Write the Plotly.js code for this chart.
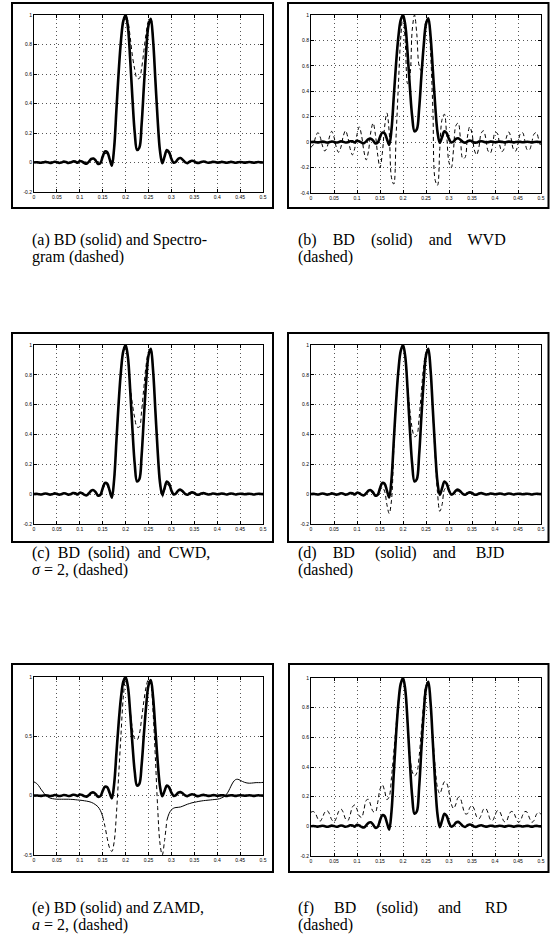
<!DOCTYPE html>
<html><head><meta charset="utf-8">
<script src="https://cdn.plot.ly/plotly-3.0.1.min.js"></script>
<style>html,body{margin:0;padding:0;background:#fff}#chart{width:550px;height:945px}</style>
</head><body><div id="chart"></div>
<script>
// ---------- data ----------
const xGrid = [
0,0.005,0.01,0.015,0.02,0.025,0.03,0.035,0.04,0.045,
0.05,0.055,0.06,0.065,0.07,0.075,0.08,0.085,0.09,0.095,
0.1,0.105,0.11,0.115,0.12,0.125,0.13,0.135,0.14,0.145,
0.15,0.155,0.16,0.165,0.17,0.175,0.18,0.185,0.19,0.195,
0.2,0.205,0.21,0.215,0.22,0.225,0.23,0.235,0.24,0.245,
0.25,0.255,0.26,0.265,0.27,0.275,0.28,0.285,0.29,0.295,
0.3,0.305,0.31,0.315,0.32,0.325,0.33,0.335,0.34,0.345,
0.35,0.355,0.36,0.365,0.37,0.375,0.38,0.385,0.39,0.395,
0.4,0.405,0.41,0.415,0.42,0.425,0.43,0.435,0.44,0.445,
0.45,0.455,0.46,0.465,0.47,0.475,0.48,0.485,0.49,0.495,
0.5];

const bd = [
0.000,0.002,0.000,-0.002,0.001,0.004,0.001,-0.003,0.000,0.005,
0.002,-0.003,0.000,0.006,0.003,-0.003,0.000,0.007,0.006,-0.002,
0.010,0.006,-0.004,-0.008,0.006,0.024,0.027,0.012,-0.010,-0.004,
0.040,0.075,0.070,0.025,-0.022,0.100,0.360,0.620,0.830,0.960,
1.000,0.920,0.700,0.430,0.200,0.085,0.100,0.260,0.520,0.760,
0.930,0.975,0.830,0.560,0.290,0.080,-0.005,0.040,0.085,0.070,
0.025,-0.002,0.005,0.025,0.030,0.018,0.002,-0.004,0.006,0.012,
0.008,-0.002,-0.003,0.004,0.007,0.003,-0.002,0.000,0.004,0.003,
-0.001,0.001,0.004,0.002,-0.002,0.001,0.004,0.002,-0.002,0.001,
0.003,0.002,-0.001,0.001,0.003,0.001,-0.002,0.001,0.003,0.001,
0.000];

const spectrogram = [
0.003,0.004,0.003,0.002,0.003,0.004,0.003,0.002,0.003,0.005,
0.004,0.002,0.003,0.006,0.005,0.002,0.003,0.007,0.007,0.003,
0.008,0.006,0.003,0.004,0.010,0.020,0.022,0.012,0.004,0.010,
0.035,0.060,0.058,0.025,0.010,0.110,0.360,0.620,0.830,0.960,
1.000,0.960,0.850,0.720,0.630,0.570,0.570,0.640,0.760,0.880,
0.960,0.975,0.830,0.560,0.290,0.085,0.010,0.035,0.070,0.060,
0.022,0.004,0.006,0.020,0.024,0.015,0.004,0.002,0.006,0.010,
0.007,0.002,0.002,0.004,0.006,0.003,0.002,0.002,0.004,0.003,
0.002,0.002,0.004,0.003,0.002,0.002,0.004,0.003,0.002,0.002,
0.003,0.003,0.002,0.002,0.003,0.002,0.002,0.002,0.003,0.002,
0.002];

const wvd = [
-0.040,-0.020,0.040,0.075,0.040,-0.030,-0.070,-0.040,0.040,0.085,
0.040,-0.040,-0.080,-0.040,0.045,0.090,0.040,-0.050,-0.100,-0.050,
0.060,0.120,0.050,-0.070,-0.140,-0.070,0.080,0.150,0.060,-0.100,
-0.200,-0.090,0.120,0.230,0.080,-0.280,-0.330,0.050,0.450,0.820,
1.000,0.780,0.460,0.520,0.880,1.000,0.850,0.600,0.560,0.760,
0.950,0.970,0.700,0.250,-0.300,-0.340,-0.050,0.180,0.220,0.050,
-0.160,-0.200,-0.050,0.130,0.150,0.020,-0.130,-0.120,0.040,0.120,
0.070,-0.060,-0.100,-0.040,0.070,0.090,0.030,-0.070,-0.085,-0.020,
0.075,0.070,-0.020,-0.075,-0.050,0.040,0.080,0.030,-0.055,-0.070,
-0.010,0.065,0.075,0.010,-0.060,-0.060,0.000,0.065,0.075,0.020,
-0.040];

const cwd = [
0.000,0.001,0.000,-0.001,0.001,0.003,0.001,-0.002,0.000,0.004,
0.002,-0.002,0.000,0.005,0.002,-0.002,0.000,0.005,0.005,-0.001,
0.008,0.005,-0.003,-0.006,0.005,0.018,0.020,0.008,-0.010,-0.006,
0.030,0.060,0.055,0.015,-0.030,0.090,0.350,0.610,0.820,0.955,
1.000,0.900,0.730,0.600,0.510,0.450,0.450,0.560,0.720,0.870,
0.955,0.975,0.830,0.560,0.290,0.070,-0.020,0.025,0.065,0.055,
0.018,-0.004,0.003,0.018,0.022,0.013,0.001,-0.004,0.004,0.009,
0.006,-0.002,-0.002,0.003,0.005,0.002,-0.001,0.000,0.003,0.002,
-0.001,0.001,0.003,0.001,-0.001,0.001,0.003,0.001,-0.001,0.001,
0.002,0.001,-0.001,0.001,0.002,0.001,-0.001,0.001,0.002,0.001,
0.000];

const bjd = [
0.000,0.001,0.000,-0.001,0.001,0.003,0.001,-0.002,0.000,0.004,
0.002,-0.002,0.000,0.005,0.002,-0.002,0.000,0.006,0.005,-0.002,
0.008,0.004,-0.005,-0.008,0.004,0.018,0.018,0.002,-0.015,-0.008,
0.025,0.045,0.020,-0.070,-0.130,-0.040,0.300,0.600,0.820,0.955,
1.000,0.900,0.720,0.560,0.440,0.385,0.395,0.510,0.690,0.860,
0.950,0.970,0.820,0.540,0.250,0.010,-0.115,-0.070,0.030,0.045,
0.020,-0.005,0.002,0.018,0.020,0.010,-0.002,-0.005,0.004,0.009,
0.006,-0.002,-0.003,0.003,0.005,0.002,-0.002,0.000,0.003,0.002,
-0.001,0.001,0.003,0.001,-0.001,0.001,0.003,0.001,-0.001,0.001,
0.002,0.001,-0.001,0.001,0.002,0.001,-0.001,0.001,0.002,0.001,
0.000];

const zamd = [
0.116,0.105,0.085,0.055,0.030,0.005,-0.010,-0.020,-0.025,-0.028,
-0.030,-0.030,-0.030,-0.030,-0.030,-0.030,-0.031,-0.032,-0.034,-0.036,
-0.038,-0.040,-0.043,-0.046,-0.050,-0.056,-0.065,-0.078,-0.095,-0.125,
-0.175,-0.260,-0.360,-0.440,-0.470,-0.390,-0.150,0.180,0.520,0.830,
0.980,0.900,0.720,0.560,0.480,0.470,0.520,0.650,0.800,0.920,
0.980,0.940,0.700,0.320,-0.100,-0.400,-0.500,-0.380,-0.210,-0.150,
-0.120,-0.105,-0.100,-0.098,-0.095,-0.088,-0.080,-0.072,-0.066,-0.060,
-0.056,-0.052,-0.048,-0.045,-0.042,-0.040,-0.038,-0.036,-0.034,-0.032,
-0.030,-0.026,-0.018,-0.008,0.010,0.040,0.080,0.115,0.135,0.138,
0.130,0.120,0.112,0.107,0.105,0.106,0.108,0.110,0.110,0.110,
0.112];

const rd = [
0.095,0.100,0.085,0.050,0.035,0.060,0.095,0.106,0.085,0.045,
0.031,0.055,0.100,0.117,0.095,0.050,0.038,0.075,0.130,0.144,
0.115,0.070,0.060,0.110,0.175,0.182,0.140,0.100,0.095,0.160,
0.250,0.280,0.240,0.180,0.200,0.330,0.500,0.680,0.850,0.960,
1.000,0.900,0.680,0.480,0.370,0.340,0.360,0.470,0.650,0.830,
0.950,0.970,0.830,0.600,0.400,0.260,0.220,0.260,0.300,0.290,
0.230,0.150,0.120,0.150,0.195,0.185,0.130,0.085,0.085,0.125,
0.140,0.115,0.065,0.050,0.075,0.115,0.120,0.090,0.045,0.040,
0.075,0.105,0.100,0.065,0.032,0.035,0.075,0.100,0.095,0.060,
0.030,0.035,0.075,0.100,0.095,0.055,0.027,0.040,0.080,0.095,
0.080];

const xTickVals = [0,0.05,0.1,0.15,0.2,0.25,0.3,0.35,0.4,0.45,0.5];
const xTickText = ["0","0.05","0.1","0.15","0.2","0.25","0.3","0.35","0.4","0.45","0.5"];
const yTickVals02 = [-0.2,0,0.2,0.4,0.6,0.8,1];
const yTickText02 = ["-0.2","0","0.2","0.4","0.6","0.8","1"];
const yTickVals04 = [-0.4,-0.2,0,0.2,0.4,0.6,0.8,1];
const yTickText04 = ["-0.4","-0.2","0","0.2","0.4","0.6","0.8","1"];
const yTickVals05 = [-0.5,0,0.5,1];
const yTickText05 = ["-0.5","0","0.5","1"];

const NB = "\u00a0";
const captionLine1 = [
  "(a) BD (solid) and Spectro-",
  "(b)"+NB+NB+NB+" BD"+NB+NB+NB+" (solid)"+NB+NB+NB+" and"+NB+NB+NB+" WVD",
  "(c)"+NB+" BD"+NB+" (solid)"+NB+" and"+NB+" CWD,",
  "(d)"+NB+NB+NB+" BD"+NB+NB+NB+NB+" (solid)"+NB+NB+NB+" and"+NB+NB+NB+NB+" BJD",
  "(e) BD (solid) and ZAMD,",
  "(f)"+NB+NB+NB+NB+" BD"+NB+NB+NB+NB+" (solid)"+NB+NB+NB+NB+" and"+NB+NB+NB+NB+NB+" RD"
];
const captionLine2 = [
  "gram (dashed)",
  "(dashed)",
  "<i>σ</i> = 2, (dashed)",
  "(dashed)",
  "<i>a</i> = 2, (dashed)",
  "(dashed)"
];

// ---------- layout geometry (pixels) ----------
const W = 550, H = 945;
const panels = [
  {inner:[34,263,15,192],  frame:[12,273,3,208],   yr:[-0.2,1], tv:yTickVals02, tt:yTickText02, cap:[30,240]},
  {inner:[311,541,15,193], frame:[288,548.5,3,208], yr:[-0.4,1], tv:yTickVals04, tt:yTickText04, cap:[296,240]},
  {inner:[34,263,345,524], frame:[12,273,333,542], yr:[-0.2,1], tv:yTickVals02, tt:yTickText02, cap:[30,553]},
  {inner:[311,541,345,524],frame:[288,548.5,333,542], yr:[-0.2,1], tv:yTickVals02, tt:yTickText02, cap:[296,553]},
  {inner:[34,263,677,855], frame:[12,273,664,872], yr:[-0.5,1], tv:yTickVals05, tt:yTickText05, cap:[30,908]},
  {inner:[311,541,678,856],frame:[289,548.5,664,872], yr:[-0.2,1], tv:yTickVals02, tt:yTickText02, cap:[296,908]}
];
const dashedSeries = [spectrogram, wvd, cwd, bjd, zamd, rd];

const traces = [];
const layout = {
  width: W, height: H, margin:{l:0,r:0,t:0,b:0},
  paper_bgcolor:'#fff', plot_bgcolor:'#fff', showlegend:false,
  shapes:[], annotations:[]
};
const tickFont = {family:'Liberation Sans, Arial, sans-serif', size:5, color:'#000'};

panels.forEach((p,i)=>{
  const n = i===0 ? '' : String(i+1);
  const xa = 'x'+n, ya = 'y'+n;
  const common = {
    showline:true, linecolor:'#000', linewidth:1, mirror:'ticks',
    ticks:'inside', ticklen:3, tickcolor:'#000', tickwidth:1,
    showgrid:true, gridcolor:'#555', griddash:'1px,3px', gridwidth:1,
    zeroline:false, tickfont:tickFont, fixedrange:true
  };
  layout['xaxis'+n] = Object.assign({}, common, {
    domain:[p.inner[0]/W, p.inner[1]/W], anchor:ya, range:[0,0.5],
    tickmode:'array', tickvals:xTickVals, ticktext:xTickText
  });
  layout['yaxis'+n] = Object.assign({}, common, {
    domain:[1-p.inner[3]/H, 1-p.inner[2]/H], anchor:xa, range:p.yr,
    tickmode:'array', tickvals:p.tv, ticktext:p.tt
  });
  const ds = dashedSeries[i];
  if (i === 4) {
    // ZAMD: thin continuous tails, dashed steep central part
    const tailL = ds.map((v,k)=> (xGrid[k] <= 0.15) ? v : null);
    const tailR = ds.map((v,k)=> (xGrid[k] >= 0.29) ? v : null);
    const midY  = ds.map((v,k)=> (xGrid[k] >= 0.15 && xGrid[k] <= 0.29) ? v : null);
    [tailL, tailR].forEach(t => traces.push({x:xGrid, y:t, xaxis:xa, yaxis:ya, mode:'lines',
      line:{color:'#000', width:1, shape:'spline', smoothing:1}, hoverinfo:'skip'}));
    traces.push({x:xGrid, y:midY, xaxis:xa, yaxis:ya, mode:'lines',
      line:{color:'#000', width:1, dash:'4px,3px', shape:'spline', smoothing:1}, hoverinfo:'skip'});
  } else {
    traces.push({x:xGrid, y:ds, xaxis:xa, yaxis:ya, mode:'lines',
      line:{color:'#000', width:1, dash:'4px,3px', shape:'spline', smoothing:1}, hoverinfo:'skip'});
  }
  traces.push({x:xGrid, y:bd, xaxis:xa, yaxis:ya, mode:'lines',
    line:{color:'#000', width:2.6, shape:'spline', smoothing:1}, hoverinfo:'skip'});

  layout.shapes.push({type:'rect', xref:'paper', yref:'paper',
    x0:p.frame[0]/W, x1:p.frame[1]/W, y0:1-p.frame[3]/H, y1:1-p.frame[2]/H,
    line:{color:'#000', width:2}, fillcolor:'rgba(0,0,0,0)', layer:'above'});

  const capFont = {family:'Liberation Serif, Times New Roman, serif', size:16, color:'#000'};
  layout.annotations.push({xref:'paper', yref:'paper', x:p.cap[0]/W, y:1-p.cap[1]/H,
    xanchor:'left', yanchor:'middle', showarrow:false, text:captionLine1[i], font:capFont});
  layout.annotations.push({xref:'paper', yref:'paper', x:p.cap[0]/W, y:1-(p.cap[1]+17)/H,
    xanchor:'left', yanchor:'middle', showarrow:false, text:captionLine2[i], font:capFont});
});

Plotly.newPlot('chart', traces, layout, {staticPlot:true, displayModeBar:false});
</script>
</body></html>
